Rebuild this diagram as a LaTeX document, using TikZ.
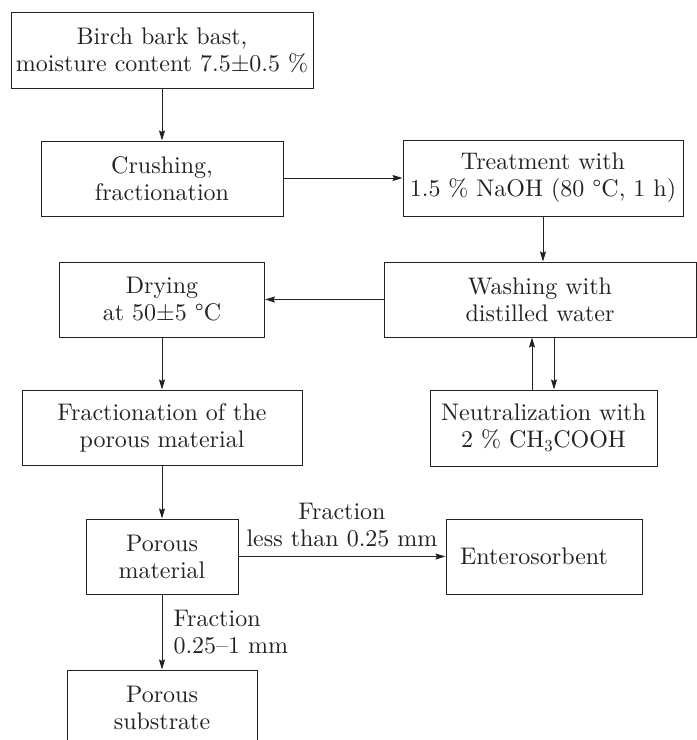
\documentclass[tikz,border=0pt]{standalone}
\usepackage{fontspec}
\setmainfont{lmroman10-regular}[Extension=.otf]
\usetikzlibrary{arrows.meta}
\definecolor{ink}{HTML}{222222}
\begin{document}
\begin{tikzpicture}[x=1pt,y=-1pt,
  every node/.style={font=\fontsize{24}{27}\selectfont, text=ink},
  box/.style={draw=ink, line width=1pt, align=center, inner sep=0pt},
  arr/.style={draw=ink, line width=1pt, -{Stealth[length=10pt,width=6pt,inset=1.5pt]}},
  lbl/.style={inner sep=0pt}]
\useasboundingbox (0,0) rectangle (697,740);
\node[box, minimum width=302pt, minimum height=76pt] (birch) at (162,50) {Birch bark bast,\\moisture content 7.5±0.5~\%};
\node[box, minimum width=242pt, minimum height=75pt] (crush) at (162,178.5) {Crushing,\\fractionation};
\node[box, minimum width=280pt, minimum height=76pt] (treat) at (543,178) {Treatment with\\1.5~\% NaOH (80~°C, 1~h)};
\node[box, minimum width=312pt, minimum height=75pt] (wash) at (540,299.5) {Washing with\\distilled water};
\node[box, minimum width=205pt, minimum height=75pt] (dry) at (162,299.5) {Drying\\at 50±5~°C};
\node[box, minimum width=227pt, minimum height=76pt] (neut) at (543.5,428) {Neutralization with\\2~\% CH\textsubscript{3}COOH};
\node[box, minimum width=280pt, minimum height=75pt] (fract) at (162,427.5) {Fractionation of the\\porous material};
\node[box, minimum width=152pt, minimum height=75pt] (pormat) at (162,556.5) {Porous\\material};
\node[box, minimum width=196pt, minimum height=75pt, text width=168pt, align=left] (entero) at (544,556.5) {Enterosorbent};
\node[box, minimum width=190pt, minimum height=75pt] (subst) at (162,707.5) {Porous\\substrate};

\draw[arr] (birch) -- (crush);
\draw[arr] (crush.east |- 0,178) -- (treat.west |- 0,178);
\draw[arr] (treat.south -| 543,0) -- (wash.north -| 543,0);
\draw[arr] (wash.west) -- (dry.east);
\draw[arr] (neut.north -| 532,0) -- (wash.south -| 532,0);
\draw[arr] (wash.south -| 554,0) -- (neut.north -| 554,0);
\draw[arr] (dry) -- (fract);
\draw[arr] (fract) -- (pormat);
\draw[arr] (pormat.east) -- node[lbl, above=9pt, align=center] {Fraction\\less than 0.25~mm} (entero.west);
\draw[arr] (pormat) -- node[lbl, right=11pt, align=left] {Fraction\\0.25--1~mm} (subst);
\end{tikzpicture}
\end{document}
